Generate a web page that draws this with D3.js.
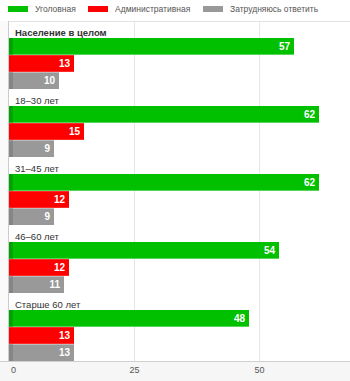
<!DOCTYPE html>
<html>
<head>
<meta charset="utf-8">
<script src="https://cdn.jsdelivr.net/npm/d3@7"></script>
<style>
  body { margin: 0; background: #fff; }
  svg { display: block; font-family: "Liberation Sans", Arial, sans-serif; }
</style>
</head>
<body>
<svg></svg>
<script>
'use strict'

const WIDTH = 350;
const HEIGHT = 381;

const categories = ['Население в целом', '18–30 лет', '31–45 лет', '46–60 лет', 'Старше 60 лет'];
const seriesNames = ['Уголовная', 'Административная', 'Затрудняюсь ответить'];
const criminal = [57, 62, 62, 54, 48];
const administrative = [13, 15, 12, 12, 13];
const unsure = [10, 9, 9, 11, 13];
const tickValues = [0, 25, 50];

const colors = ['#00c000', '#ff0000', '#999999'];
const darker = ['#009a00', '#e00000', '#808080'];

const plotTop = 21, plotBottom = 361, plotLeft = 9;

const svg = d3.select('svg')
  .attr('width', WIDTH)
  .attr('height', HEIGHT);

// background below and left of plot
svg.append('rect').attr('x', 0).attr('y', plotBottom).attr('width', WIDTH).attr('height', HEIGHT - plotBottom).attr('fill', '#f6f6f6');
svg.append('rect').attr('x', 0).attr('y', plotTop).attr('width', plotLeft).attr('height', plotBottom - plotTop).attr('fill', '#fafafa');

let xScale = d3.scaleLinear().domain([0, 70]).range([plotLeft, plotLeft + 350]);

let groupScale = d3.scaleBand().domain(categories).range([plotTop, plotBottom]);
let barScale = d3.scaleBand().domain([0, 1, 2]).range([17, 68]).paddingInner(0.03);

// grid
svg.append('g')
  .selectAll('line')
  .data(tickValues.slice(1))
  .join('line')
  .attr('x1', d => xScale(d) + 0.5)
  .attr('x2', d => xScale(d) + 0.5)
  .attr('y1', plotTop)
  .attr('y2', plotBottom)
  .attr('stroke', '#e6e6e6');

svg.append('line')
  .attr('x1', plotLeft).attr('x2', WIDTH)
  .attr('y1', plotTop + 0.5).attr('y2', plotTop + 0.5)
  .attr('stroke', '#e2e2e2');

svg.append('line')
  .attr('x1', plotLeft - 0.5).attr('x2', plotLeft - 0.5)
  .attr('y1', plotTop).attr('y2', plotBottom)
  .attr('stroke', '#cccccc');

// groups
const rows = categories.map((c, i) => ({
  name: c,
  values: [criminal[i], administrative[i], unsure[i]]
}));

const groups = svg.append('g')
  .selectAll('g')
  .data(rows)
  .join('g')
  .attr('transform', d => 'translate(0,' + groupScale(d.name) + ')');

groups.append('text')
  .attr('x', 15)
  .attr('y', 14.5)
  .attr('font-size', 9.5)
  .attr('font-weight', (d, i) => i === 0 ? 'bold' : 'normal')
  .attr('fill', '#333')
  .text(d => d.name);

const bars = groups.selectAll('g.bar')
  .data(d => d.values)
  .join('g')
  .attr('class', 'bar');

bars.append('rect')
  .attr('x', xScale(0))
  .attr('y', (d, i) => barScale(i))
  .attr('width', d => xScale(d) - xScale(0))
  .attr('height', barScale.bandwidth())
  .attr('fill', (d, i) => colors[i]);

bars.append('rect')
  .attr('x', xScale(0))
  .attr('y', (d, i) => barScale(i))
  .attr('width', 4)
  .attr('height', barScale.bandwidth())
  .attr('fill', (d, i) => darker[i])
  .attr('opacity', (d, i) => i === 1 ? 0 : 0.8);

bars.append('text')
  .attr('x', d => xScale(d) - 4)
  .attr('y', (d, i) => barScale(i) + barScale.bandwidth() / 2)
  .attr('dy', '0.36em')
  .attr('text-anchor', 'end')
  .attr('font-size', 10)
  .attr('font-weight', 'bold')
  .attr('fill', '#fff')
  .text(d => d);

// bottom axis
let bottomAxis = d3.axisBottom(xScale).tickValues(tickValues).tickSize(0).tickPadding(6);
const axisG = svg.append('g')
  .attr('transform', 'translate(0,' + plotBottom + ')')
  .call(bottomAxis);
axisG.select('.domain').attr('stroke', '#d0d0d0').attr('d', 'M0,0.5H' + WIDTH);
axisG.selectAll('text')
  .attr('font-size', 9)
  .attr('fill', '#555')
  .attr('font-family', '"Liberation Sans", Arial, sans-serif')
  .attr('dx', d => d === 0 ? 4 : 0);

// legend
const legendX = [8, 88, 203];
const legend = svg.append('g')
  .selectAll('g')
  .data(seriesNames)
  .join('g')
  .attr('transform', (d, i) => 'translate(' + legendX[i] + ',0)');

legend.append('rect')
  .attr('y', 6)
  .attr('width', 20)
  .attr('height', 6)
  .attr('fill', (d, i) => colors[i]);

legend.append('text')
  .attr('x', 27)
  .attr('y', 12)
  .attr('font-size', 8.5)
  .attr('fill', '#555')
  .text(d => d);
</script>
</body>
</html>
